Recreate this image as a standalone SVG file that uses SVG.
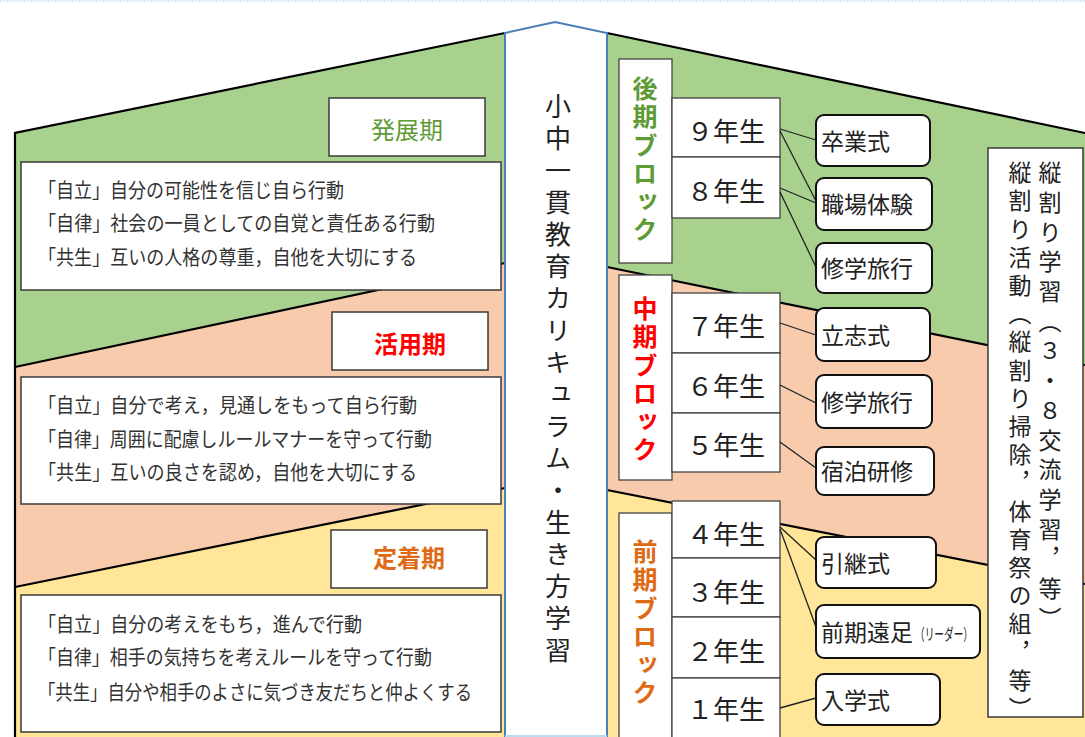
<svg xmlns="http://www.w3.org/2000/svg" width="1085" height="737" viewBox="0 0 1085 737">
<style>
text{font-family:"Noto Sans CJK JP","Noto Sans",sans-serif;}
.edge{stroke:#000;stroke-width:2.2;fill:none;stroke-linecap:round}
.box{fill:#fff;stroke:#3a3a3a;stroke-width:1.5}
.gbox{fill:#fff;stroke:#444;stroke-width:1.3}
.ev{fill:#fff;stroke:#111;stroke-width:2}
.conn{stroke:#222;stroke-width:1.3;fill:none}
.list{font-size:20px;fill:#333}
.lab{font-size:24px;text-anchor:middle}
.grade{font-size:26px;fill:#222;text-anchor:middle}
.evt{font-size:23px;fill:#222}
.vert{writing-mode:vertical-rl}
.blk{font-size:25px;font-weight:bold;letter-spacing:3.3px}
</style>
<rect width="1085" height="737" fill="#fff"/>
<line x1="0" y1="1" x2="1085" y2="1" stroke="#cfe5f3" stroke-width="1.5" stroke-dasharray="2 1"/>
<g id="bands">
<polygon points="15,133 505,33 505,263 15,367" fill="#a9d18e"/>
<polygon points="15,367 505,263 505,488 15,587" fill="#f8cbad"/>
<polygon points="15,587 505,488 505,737 15,737" fill="#ffe699"/>
<polygon points="607,33 1085,133 1085,365 607,267" fill="#a9d18e"/>
<polygon points="607,267 1085,365 1085,584 607,490" fill="#f8cbad"/>
<polygon points="607,490 1085,584 1085,737 607,737" fill="#ffe699"/>
<polyline class="edge" points="15,737 15,133 505,33"/>
<line class="edge" x1="15" y1="367" x2="505" y2="263"/>
<line class="edge" x1="15" y1="587" x2="505" y2="488"/>
<line class="edge" x1="607" y1="33" x2="1085" y2="133"/>
<line class="edge" x1="607" y1="267" x2="1085" y2="365"/>
<line class="edge" x1="607" y1="490" x2="1085" y2="584"/>
</g>
<g id="spine">
<polygon points="505,33 555,22 607,33 607,736 505,736" fill="#fff" stroke="#4a7ebb" stroke-width="2"/>
<line x1="505" y1="736" x2="607" y2="736" stroke="#bcdcf0" stroke-width="2"/>
<text class="vert" x="558" y="93" style="font-size:26px;letter-spacing:6px" fill="#222">小中一貫教育カリキュラム・生き方学習</text>
</g>
<g id="hatten">
<rect class="box" x="329" y="98" width="156" height="58"/>
<text class="lab" x="407" y="139" fill="#5e9a35">発展期</text>
</g>
<g id="hatten-list">
<rect class="box" x="21" y="162" width="480" height="128"/>
<text class="list" x="38" y="198" textLength="306" lengthAdjust="spacingAndGlyphs">「自立」自分の可能性を信じ自ら行動</text>
<text class="list" x="38" y="231" textLength="397" lengthAdjust="spacingAndGlyphs">「自律」社会の一員としての自覚と責任ある行動</text>
<text class="list" x="38" y="265" textLength="379" lengthAdjust="spacingAndGlyphs">「共生」互いの人格の尊重，自他を大切にする</text>
</g>
<g id="katsuyou">
<rect class="box" x="332" y="312" width="156" height="58"/>
<text class="lab" x="410" y="353" fill="#ff0000" font-weight="bold">活用期</text>
</g>
<g id="katsuyou-list">
<rect class="box" x="21" y="377" width="480" height="127"/>
<text class="list" x="38" y="413" textLength="379" lengthAdjust="spacingAndGlyphs">「自立」自分で考え，見通しをもって自ら行動</text>
<text class="list" x="38" y="447" textLength="394" lengthAdjust="spacingAndGlyphs">「自律」周囲に配慮しルールマナーを守って行動</text>
<text class="list" x="38" y="480" textLength="379" lengthAdjust="spacingAndGlyphs">「共生」互いの良さを認め，自他を大切にする</text>
</g>
<g id="teichaku">
<rect class="box" x="331" y="530" width="156" height="58"/>
<text class="lab" x="409" y="567" fill="#e06a14" font-weight="bold">定着期</text>
</g>
<g id="teichaku-list">
<rect class="box" x="21" y="595" width="480" height="137"/>
<text class="list" x="38" y="632" textLength="324" lengthAdjust="spacingAndGlyphs">「自立」自分の考えをもち，進んで行動</text>
<text class="list" x="38" y="665" textLength="394" lengthAdjust="spacingAndGlyphs">「自律」相手の気持ちを考えルールを守って行動</text>
<text class="list" x="38" y="700" textLength="434" lengthAdjust="spacingAndGlyphs">「共生」自分や相手のよさに気づき友だちと仲よくする</text>
</g>
<g id="kouki">
<rect class="gbox" x="619" y="59" width="53" height="204"/>
<text class="vert blk" x="645" y="76" fill="#5e9a35">後期ブロック</text>
</g>
<g id="chuuki">
<rect class="gbox" x="619" y="275" width="53" height="205"/>
<text class="vert blk" x="645" y="296" fill="#ff0000">中期ブロック</text>
</g>
<g id="zenki">
<rect class="gbox" x="619" y="513" width="53" height="227"/>
<text class="vert blk" x="645" y="539" fill="#e06a14">前期ブロック</text>
</g>
<g id="g9"><rect class="gbox" x="672" y="98" width="108" height="59"/><text class="grade" x="726" y="141">９年生</text></g>
<g id="g8"><rect class="gbox" x="672" y="157" width="108" height="61"/><text class="grade" x="726" y="201">８年生</text></g>
<g id="g7"><rect class="gbox" x="672" y="293" width="108" height="60"/><text class="grade" x="726" y="336">７年生</text></g>
<g id="g6"><rect class="gbox" x="672" y="353" width="108" height="60"/><text class="grade" x="726" y="396">６年生</text></g>
<g id="g5"><rect class="gbox" x="672" y="413" width="108" height="59"/><text class="grade" x="726" y="455">５年生</text></g>
<g id="g4"><rect class="gbox" x="672" y="501" width="108" height="57"/><text class="grade" x="726" y="544">４年生</text></g>
<g id="g3"><rect class="gbox" x="672" y="558" width="108" height="59"/><text class="grade" x="726" y="602">３年生</text></g>
<g id="g2"><rect class="gbox" x="672" y="617" width="108" height="61"/><text class="grade" x="726" y="661">２年生</text></g>
<g id="g1"><rect class="gbox" x="672" y="678" width="108" height="62"/><text class="grade" x="726" y="719">１年生</text></g>
<g id="connectors">
<line class="conn" x1="780" y1="129" x2="816" y2="140"/>
<line class="conn" x1="780" y1="131" x2="816" y2="201"/>
<line class="conn" x1="780" y1="188" x2="816" y2="203"/>
<line class="conn" x1="780" y1="192" x2="816" y2="267"/>
<line class="conn" x1="780" y1="323" x2="816" y2="335"/>
<line class="conn" x1="780" y1="385" x2="816" y2="403"/>
<line class="conn" x1="780" y1="442" x2="816" y2="468"/>
<line class="conn" x1="780" y1="527" x2="816" y2="560"/>
<line class="conn" x1="780" y1="529" x2="816" y2="627"/>
<line class="conn" x1="780" y1="708" x2="816" y2="698"/>
</g>
<g id="e-sotsugyo"><rect class="ev" x="816" y="115" width="114" height="51" rx="8"/><text class="evt" x="821" y="150">卒業式</text></g>
<g id="e-shokuba"><rect class="ev" x="816" y="178" width="116" height="52" rx="8"/><text class="evt" x="821" y="213">職場体験</text></g>
<g id="e-shugaku1"><rect class="ev" x="816" y="243" width="116" height="50" rx="8"/><text class="evt" x="821" y="277">修学旅行</text></g>
<g id="e-risshi"><rect class="ev" x="816" y="308" width="114" height="53" rx="8"/><text class="evt" x="821" y="344">立志式</text></g>
<g id="e-shugaku2"><rect class="ev" x="816" y="375" width="116" height="53" rx="8"/><text class="evt" x="821" y="411">修学旅行</text></g>
<g id="e-shukuhaku"><rect class="ev" x="816" y="447" width="118" height="48" rx="8"/><text class="evt" x="821" y="480">宿泊研修</text></g>
<g id="e-hikitsugi"><rect class="ev" x="816" y="537" width="120" height="51" rx="8"/><text class="evt" x="821" y="572">引継式</text></g>
<g id="e-ensoku"><rect class="ev" x="816" y="605" width="164" height="53" rx="8"/><text class="evt" x="821" y="641">前期遠足</text><text x="915" y="640" style="font-size:16px;fill:#222" textLength="58" lengthAdjust="spacingAndGlyphs">（リーダー）</text></g>
<g id="e-nyugaku"><rect class="ev" x="816" y="674" width="124" height="51" rx="8"/><text class="evt" x="821" y="709">入学式</text></g>
<g id="tatewari">
<rect class="box" x="988" y="148" width="95" height="569"/>
<text class="vert" x="1050" y="161" style="font-size:23px;letter-spacing:6.7px" fill="#222">縦割り学習（３・８交流学習，等）</text>
<text class="vert" x="1020" y="161" style="font-size:23px;letter-spacing:5.2px" fill="#222">縦割り活動（縦割り掃除，体育祭の組，等）</text>
</g>
</svg>
